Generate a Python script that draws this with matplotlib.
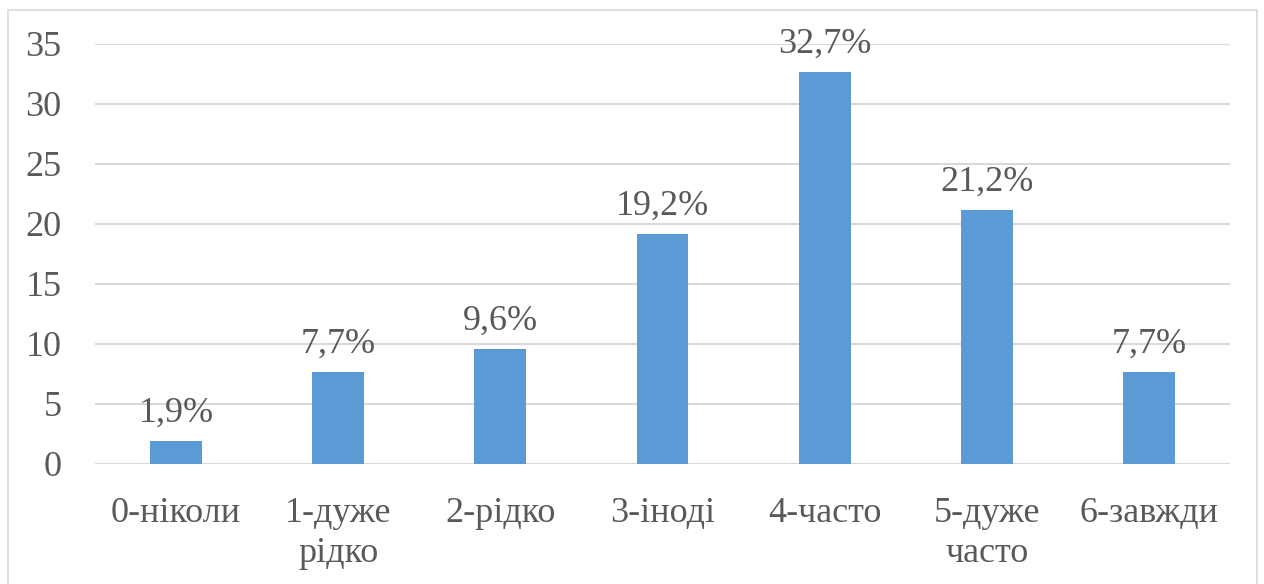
import matplotlib
matplotlib.use("Agg")
import matplotlib.pyplot as plt
from matplotlib.patches import Rectangle

categories = ["0-ніколи", "1-дуже\nрідко", "2-рідко", "3-іноді", "4-часто", "5-дуже\nчасто", "6-завжди"]
values = [1.9, 7.7, 9.6, 19.2, 32.7, 21.2, 7.7]
labels = ["1,9%", "7,7%", "9,6%", "19,2%", "32,7%", "21,2%", "7,7%"]
yticks = [0, 5, 10, 15, 20, 25, 30, 35]

plt.rcParams["font.family"] = ["Liberation Serif", "DejaVu Serif"]
text_color = "#595959"
grid_color = "#d9d9d9"
bar_color = "#5b9bd5"

fig = plt.figure(figsize=(12.64, 5.84), dpi=100)
fig.patches.append(Rectangle((8 / 1264, -0.05), 1249 / 1264, 1 - 10 / 584 + 0.05,
                             transform=fig.transFigure, fill=False,
                             edgecolor=grid_color, linewidth=1.2))

ax = fig.add_axes([95 / 1264, 120 / 584, 1135 / 1264, 420 / 584])
x = range(len(categories))
ax.bar(x, values, width=0.32, color=bar_color, zorder=3)

for xi, v, lab in zip(x, values, labels):
    ax.annotate(lab, (xi, v), xytext=(0, 8), textcoords="offset points",
                ha="center", va="bottom", fontsize=26, color=text_color)

ax.set_xlim(-0.5, len(categories) - 0.5)
ax.set_ylim(0, 35)
ax.set_yticks(yticks)
ax.set_yticklabels([str(t) for t in yticks])
ax.set_xticks(list(x))
ax.set_xticklabels(categories, linespacing=1.25)
ax.tick_params(axis="y", length=0, pad=24, labelsize=26, labelcolor=text_color)
ax.tick_params(axis="x", length=0, pad=24, labelsize=26, labelcolor=text_color)
ax.grid(axis="y", color=grid_color, linewidth=1.5, zorder=0)
for s in ax.spines.values():
    s.set_visible(False)

fig.savefig("out.png", dpi=100)
